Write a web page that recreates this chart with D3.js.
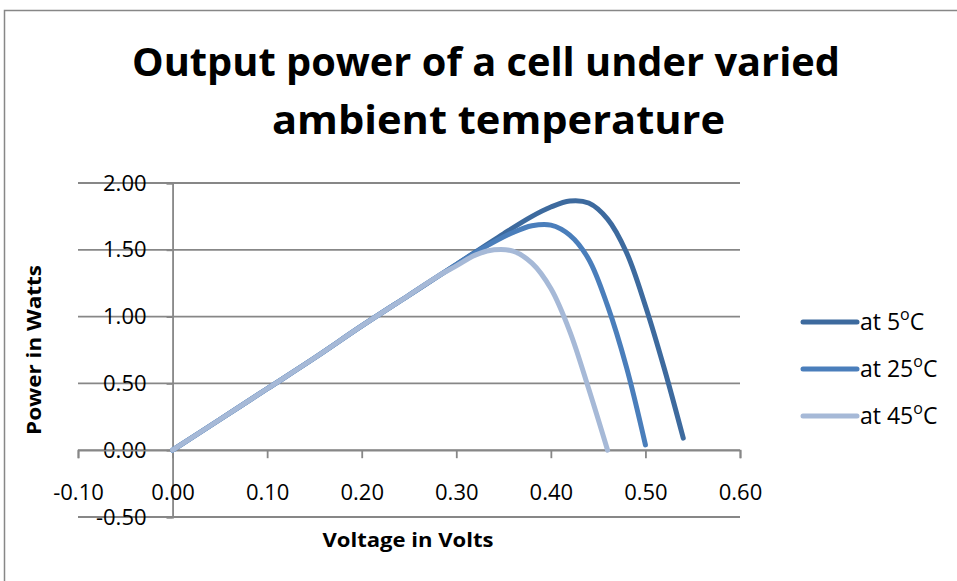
<!DOCTYPE html>
<html>
<head>
<meta charset="utf-8">
<script src="https://cdn.jsdelivr.net/npm/d3@7"></script>
<style>
  body { margin: 0; background: #fff; }
  svg { display: block; font-family: "Open Sans", sans-serif; }
</style>
</head>
<body>
<svg id="chart" width="957" height="581"></svg>
<script>
// voltage (V) / power (W), one pair of arrays per temperature
const v5  = [0, 0.05, 0.10, 0.15, 0.20, 0.25, 0.30, 0.35, 0.38, 0.40, 0.42, 0.44, 0.46, 0.48, 0.50, 0.52, 0.54];
const p5  = [0, 0.23, 0.46, 0.69, 0.93, 1.16, 1.39, 1.62, 1.75, 1.82, 1.865, 1.85, 1.73, 1.48, 1.08, 0.61, 0.09];
const v25 = [0, 0.05, 0.10, 0.15, 0.20, 0.25, 0.30, 0.33, 0.36, 0.38, 0.40, 0.42, 0.44, 0.46, 0.48, 0.50];
const p25 = [0, 0.23, 0.46, 0.69, 0.93, 1.16, 1.39, 1.52, 1.63, 1.68, 1.685, 1.61, 1.43, 1.08, 0.62, 0.04];
const v45 = [0, 0.05, 0.10, 0.15, 0.20, 0.25, 0.28, 0.30, 0.32, 0.34, 0.36, 0.38, 0.40, 0.42, 0.44, 0.46];
const p45 = [0, 0.23, 0.46, 0.69, 0.93, 1.16, 1.30, 1.38, 1.46, 1.50, 1.49, 1.40, 1.21, 0.89, 0.46, 0.00];

const seriesNames = ["at 5", "at 25", "at 45"];
const xTicks = [-0.1, 0, 0.1, 0.2, 0.3, 0.4, 0.5, 0.6];
const yTicks = [-0.5, 0, 0.5, 1.0, 1.5, 2.0];

const series = [
    { name: seriesNames[0], v: v5,  p: p5,  color: "#3d6a9e" },
    { name: seriesNames[1], v: v25, p: p25, color: "#4a7ebb" },
    { name: seriesNames[2], v: v45, p: p45, color: "#a6b9d7" }
];

const svg = d3.select("#chart");
const grey = "#878787";
// excel style numbers, plain hyphen for negatives
const fmt = (d) => d3.format(".2f")(d).replace("\u2212", "-");

// chart border
svg.append("rect")
    .attr("x", 4.5).attr("y", 10.5)
    .attr("width", 960).attr("height", 580)
    .attr("fill", "none").attr("stroke", grey).attr("stroke-width", 1.5);

const x = d3.scaleLinear().domain([-0.1, 0.6]).range([78, 740]);
const y = d3.scaleLinear().domain([-0.5, 2.0]).range([517, 183]);

// horizontal gridlines
svg.append("g")
    .selectAll("line")
    .data(yTicks)
    .enter().append("line")
    .attr("x1", x(-0.1)).attr("x2", x(0.6))
    .attr("y1", (d) => y(d)).attr("y2", (d) => y(d))
    .attr("stroke", grey).attr("stroke-width", 1.8);

// y axis crosses at x = 0
const yAxis = svg.append("g")
    .attr("transform", "translate(" + x(0) + ",0)")
    .call(d3.axisLeft(y).tickValues(yTicks).tickSize(6).tickPadding(20)
        .tickFormat(fmt));

// x axis crosses at y = 0
const xAxis = svg.append("g")
    .attr("transform", "translate(0," + y(0) + ")")
    .call(d3.axisBottom(x).tickValues(xTicks).tickSize(8).tickPadding(26)
        .tickFormat(fmt));

[xAxis, yAxis].forEach(function(ax) {
    ax.select(".domain").attr("stroke", grey).attr("stroke-width", 1.8);
    ax.selectAll(".tick line").attr("stroke", grey).attr("stroke-width", 1.8);
    ax.selectAll(".tick text")
        .attr("fill", "#000")
        .style("font-family", "'Open Sans', sans-serif")
        .style("font-size", "22px");
});

// the curves, smoothed like excel
const line = d3.line()
    .x((d) => x(d[0]))
    .y((d) => y(d[1]))
    .curve(d3.curveCatmullRom.alpha(0.5));

svg.append("g")
    .selectAll("path")
    .data(series)
    .enter().append("path")
    .attr("d", (s) => line(s.v.map((v, i) => [v, s.p[i]])))
    .attr("fill", "none")
    .attr("stroke", (s) => s.color)
    .attr("stroke-width", 5)
    .attr("stroke-linecap", "round")
    .attr("stroke-linejoin", "round");

// title
const title = svg.append("text")
    .attr("font-weight", "bold")
    .attr("font-size", 40)
    .attr("fill", "#000");
title.append("tspan").attr("x", 132).attr("y", 76)
    .attr("textLength", 708).attr("lengthAdjust", "spacingAndGlyphs")
    .text("Output power of a cell under varied");
title.append("tspan").attr("x", 272).attr("y", 134)
    .attr("textLength", 453).attr("lengthAdjust", "spacingAndGlyphs")
    .text("ambient temperature");

// axis titles
svg.append("text")
    .attr("x", 408).attr("y", 547)
    .attr("text-anchor", "middle")
    .attr("font-weight", "bold").attr("font-size", 20)
    .attr("textLength", 171).attr("lengthAdjust", "spacingAndGlyphs")
    .text("Voltage in Volts");

svg.append("text")
    .attr("transform", "translate(41,350) rotate(-90)")
    .attr("text-anchor", "middle")
    .attr("font-weight", "bold").attr("font-size", 20)
    .attr("textLength", 170).attr("lengthAdjust", "spacingAndGlyphs")
    .text("Power in Watts");

// legend
const legend = svg.append("g")
    .selectAll("g")
    .data(series)
    .enter().append("g")
    .attr("transform", (d, i) => "translate(803," + (322 + i * 47) + ")");

legend.append("line")
    .attr("x1", 0).attr("x2", 54)
    .attr("stroke", (d) => d.color)
    .attr("stroke-width", 5)
    .attr("stroke-linecap", "round");

const lt = legend.append("text")
    .attr("x", 57).attr("y", 8)
    .attr("font-size", 23)
    .attr("fill", "#000");
lt.append("tspan").text((d) => d.name);
lt.append("tspan").attr("dy", -10).attr("font-size", 16).text("o");
lt.append("tspan").attr("dy", 10).text("C");
</script>
</body>
</html>
